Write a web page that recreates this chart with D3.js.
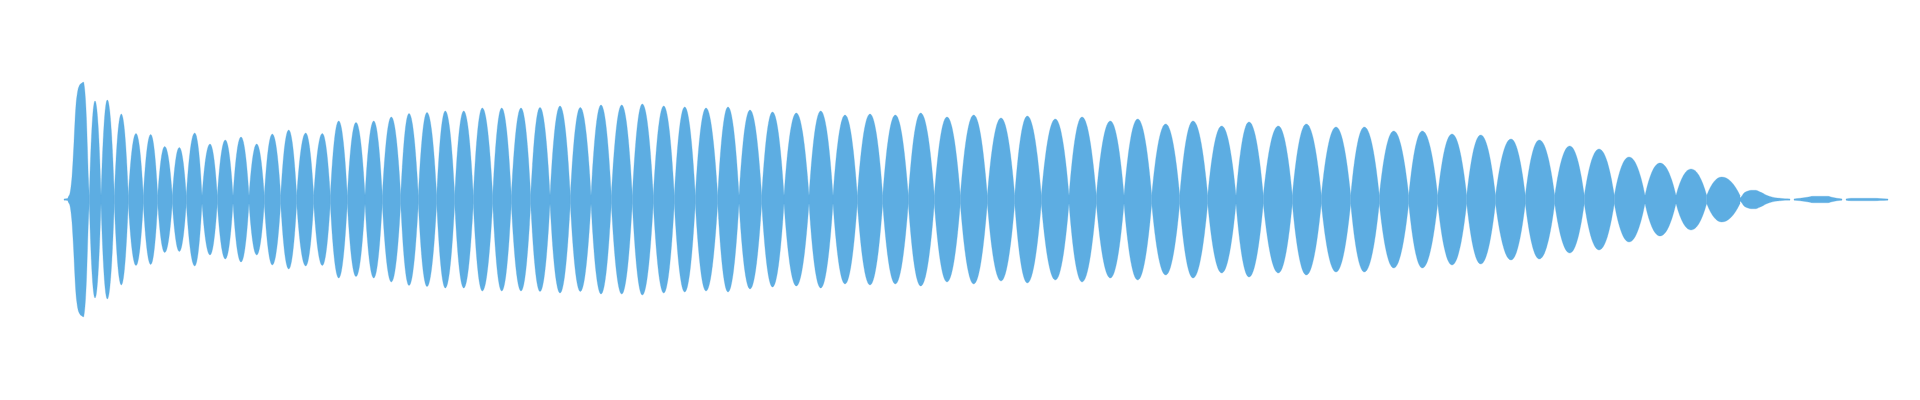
<!DOCTYPE html>
<html>
<head>
<meta charset="utf-8">
<script src="https://cdn.jsdelivr.net/npm/d3@7"></script>
<style>
html, body { margin: 0; padding: 0; background: #ffffff; }
svg { display: block; }
</style>
</head>
<body>
<svg id="chart" width="1920" height="400"></svg>
<script>
// Time in ms, amplitude in % of full scale (envelope, mirrored about zero)

// Initial burst (onset) envelope
const onsetTime = [0, 35, 45, 60, 70, 80, 90, 100, 110, 120, 130, 140, 150, 160, 180, 195, 205, 215, 225, 235, 245, 253];
const onsetAmp  = [0.5, 0.8, 2.4, 5.2, 10.4, 18.4, 31.2, 46.4, 63.2, 76, 83.2, 88, 90.4, 92, 93.2, 94, 89.6, 80, 64, 40, 16, 3.2];

// Boundaries between successive pulses (envelope minima)
const valleyTime = [253, 370, 503, 643, 793, 937, 1083, 1223, 1380, 1533,
  1690, 1850, 2003, 2167, 2327, 2497, 2663, 2833, 3010, 3183,
  3367, 3543, 3727, 3907, 4093, 4287, 4473, 4667, 4860, 5063,
  5270, 5473, 5683, 5893, 6103, 6313, 6537, 6750, 6977, 7200,
  7450, 7690, 7933, 8187, 8443, 8703, 8963, 9233, 9507, 9773,
  10050, 10323, 10600, 10877, 11157, 11437, 11720, 11993, 12283, 12573,
  12867, 13153, 13447, 13737, 14027, 14315, 14613, 14907, 15203, 15503,
  15810, 16120, 16427, 16760];

// Pulse peak times
const peakTime = [310, 433, 573, 720, 867, 1007, 1153, 1307, 1460, 1613,
  1770, 1927, 2083, 2247, 2417, 2583, 2747, 2920, 3097, 3273,
  3450, 3630, 3813, 3997, 4183, 4377, 4570, 4760, 4960, 5163,
  5370, 5577, 5783, 5997, 6207, 6420, 6640, 6860, 7085, 7323,
  7567, 7810, 8060, 8313, 8567, 8830, 9097, 9370, 9633, 9913,
  10180, 10463, 10737, 11017, 11290, 11577, 11850, 12143, 12423, 12720,
  13003, 13297, 13583, 13880, 14167, 14470, 14753, 15057, 15350, 15650,
  15960, 16270, 16577];

// Pulse peak amplitudes
const peakAmp = [78.8, 79.6, 68.4, 52.8, 52, 42.4, 41.6, 53.2, 44.4, 47.6,
  50, 44.4, 52.4, 55.6, 53.2, 52.8, 62.8, 61.6, 62.8, 66,
  68.8, 69.6, 70.8, 70.8, 73.2, 73.2, 73.2, 73.6, 74.8, 73.6,
  75.6, 75.6, 76.4, 74.8, 74, 73.2, 74, 71.6, 70, 69.2,
  70.8, 67.6, 68.4, 67.6, 69.2, 66, 67.6, 65.2, 66.8, 64.4,
  66, 62.8, 64.4, 60.4, 62.8, 58.8, 62, 58.8, 60.4, 58,
  58, 54.8, 54.8, 52.4, 51.6, 48.4, 47.6, 42.8, 40.4, 34,
  29.2, 24.4, 18];

// Envelope floor between pulses
const coreAmp = 3.2;

// Decaying tail (null = silence gap)
const tailTime = [16760, 16775, 16790, 16810, 16840, 16870, 16920, 16950, 16990, 17020, 17060, 17110, 17160, 17210, 17260,
  17280,
  17300, 17360, 17430, 17490, 17640, 17680, 17730, 17780,
  17800,
  17820, 17870, 18110, 18160, 18240];
const tailAmp = [1.2, 2.4, 4.2, 5.8, 6.8, 7.4, 7.4, 6.4, 5, 3.6, 2.4, 1.4, 1, 0.6, 0.5,
  null,
  0.5, 1, 1.8, 2.6, 2.6, 1.8, 1, 0.5,
  null,
  0.5, 1, 1, 0.8, 0.5];

const svg = d3.select('#chart');
const x = d3.scaleLinear().domain([0, 18240]).range([64, 1888]);
const y = d3.scaleLinear().domain([-100, 100]).range([324.5, 74.5]);

// Custom d3 curve for a single pulse: pointed at the envelope minima, rounded at the peak
function curveLobe(context) { return new LobeCurve(context); }
function LobeCurve(context) { this._context = context; }
LobeCurve.prototype = {
  areaStart() { this._line = 0; },
  areaEnd() { this._line = NaN; },
  lineStart() { this._pts = []; },
  point(px, py) { this._pts.push([+px, +py]); },
  lineEnd() {
    const p = this._pts, c = this._context, n = p.length, K = 2.1;
    if (n) {
      if (this._line) c.lineTo(p[0][0], p[0][1]); else c.moveTo(p[0][0], p[0][1]);
      const m = p.map((pt, i) => {
        if (n === 1) return 0;
        if (i === 0) return K * (p[1][1] - pt[1]) / (p[1][0] - pt[0]);
        if (i === n - 1) return K * (pt[1] - p[i - 1][1]) / (pt[0] - p[i - 1][0]);
        const s0 = (pt[1] - p[i - 1][1]) / (pt[0] - p[i - 1][0]);
        const s1 = (p[i + 1][1] - pt[1]) / (p[i + 1][0] - pt[0]);
        return s0 * s1 <= 0 ? 0 : (s0 + s1) / 2;
      });
      for (let i = 0; i < n - 1; i++) {
        const [x0, y0] = p[i], [x1, y1] = p[i + 1], dx = (x1 - x0) / 3;
        c.bezierCurveTo(x0 + dx, y0 + dx * m[i], x1 - dx, y1 - dx * m[i + 1], x1, y1);
      }
    }
    if (this._line || (this._line !== 0 && n === 1)) c.closePath();
    this._line = 1 - this._line;
  }
};

const mirrored = curve => d3.area()
  .defined(d => d.a != null)
  .x(d => x(d.t))
  .y0(d => y(-d.a))
  .y1(d => y(d.a))
  .curve(curve);

const areaSmooth = mirrored(d3.curveMonotoneX);
const areaLobe = mirrored(curveLobe);

const pulses = peakTime.map((p, i) => [
  { t: valleyTime[i], a: coreAmp },
  { t: p, a: peakAmp[i] },
  { t: valleyTime[i + 1], a: coreAmp }
]);
const onset = onsetTime.map((t, i) => ({ t, a: onsetAmp[i] }));
const tail = tailTime.map((t, i) => ({ t, a: tailAmp[i] }));

const g = svg.append('g').attr('fill', '#5DADE2').attr('stroke', '#5DADE2').attr('stroke-width', 0.3);

g.append('path').datum(onset).attr('d', areaSmooth);
g.selectAll('path.pulse')
  .data(pulses)
  .join('path')
  .attr('class', 'pulse')
  .attr('d', areaLobe);
g.append('path').datum(tail).attr('d', areaSmooth);
</script>
</body>
</html>
